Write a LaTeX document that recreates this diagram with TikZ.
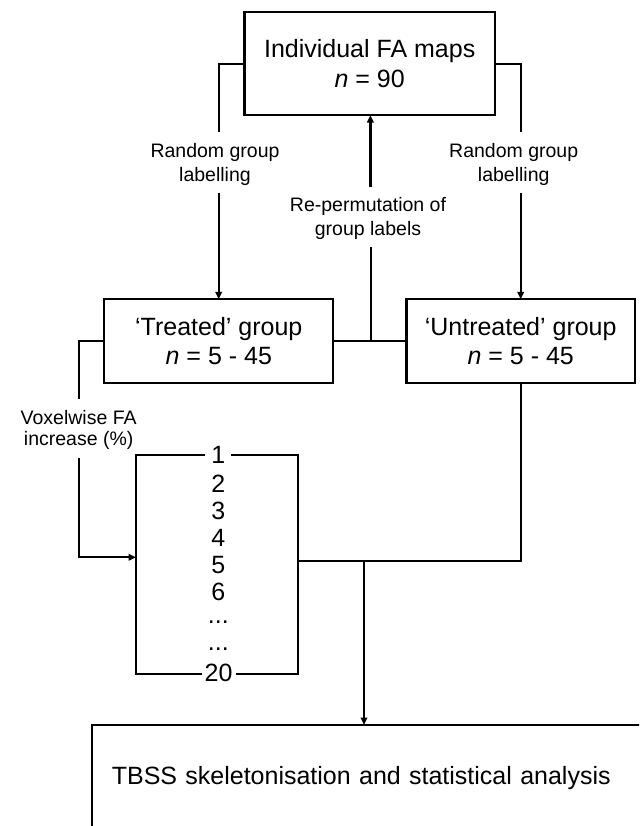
\documentclass[tikz,border=0pt]{standalone}
\usepackage{fontspec}
\setmainfont{Liberation Sans}
\usetikzlibrary{arrows.meta}
\newcommand\bigfnt{\fontsize{25}{29.5}\selectfont}
\newcommand\smlfnt{\fontsize{19.5}{24.4}\selectfont}
\begin{document}
\begin{tikzpicture}[x=1pt,y=-1pt,
  ln/.style={line width=2.3pt},
  arr/.style={line width=2.3pt,-{Triangle[length=7.5pt,width=6.5pt]}},
  box/.style={draw,line width=2.3pt,inner sep=0pt,outer sep=0pt,font=\bigfnt,align=center},
  lbl/.style={font=\smlfnt,align=center,inner sep=0pt},
  num/.style={font=\bigfnt,inner sep=0pt,anchor=base}]
\useasboundingbox (0,0) rectangle (639,826);
\clip (0,0) rectangle (639,826);
\fill[white] (0,0) rectangle (639,826);

% boxes
\node[box,minimum width=250.7pt,minimum height=102.7pt] (top) at (369.7,63.7) {Individual FA maps\\\textit{n} = 90};
\node[box,minimum width=229pt,minimum height=84pt] (treated) at (218.8,341.3) {‘Treated’ group\\\textit{n} = 5 - 45};
\node[box,minimum width=228.7pt,minimum height=84pt] (untreated) at (520.7,341.3) {‘Untreated’ group\\\textit{n} = 5 - 45};
\node[box,anchor=north west,align=left,inner xsep=20pt,inner ysep=41pt,text width=560pt,text height=18pt,text depth=100pt] (tbss) at (91.8,725) {TBSS skeletonisation and statistical analysis};

% labels
\node[lbl] (lblL) at (215,164.5) {Random group\\labelling};
\node[lbl] (lblR) at (513.7,164.5) {Random group\\labelling};
\node[lbl,font={\fontsize{19.5}{23.3}\selectfont}] (lblM) at (368,218.4) {Re-permutation of\\group labels};
\node[lbl,font={\fontsize{19.5}{21.7}\selectfont}] (lblV) at (78.7,429.9) {Voxelwise FA\\increase (\%)};

% list bracket
\node[draw,line width=2.3pt,inner sep=0pt,outer sep=0pt,minimum width=161.7pt,minimum height=219.3pt] (list) at (216.85,564.65) {};
\node[num,fill=white,inner xsep=6pt] (n1) at (218.3,463.3) {1};
\node[num] (n2) at (218.3,492.3) {2};
\node[num] (n3) at (218.3,519.3) {3};
\node[num] (n4) at (218.3,546.7) {4};
\node[num] (n5) at (218.3,573.3) {5};
\node[num] (n6) at (218.3,600.7) {6};
\node[num] (d1) at (218.3,623.8) {...};
\node[num] (d2) at (218.3,650.3) {...};
\node[num,fill=white,inner xsep=3pt] (n20) at (218.6,681.7) {20};

% connector points
\coordinate (aL1) at (218.7,132.3);
\coordinate (aL2) at (218.7,192.7);
\coordinate (aR1) at (520.7,132.3);
\coordinate (aR2) at (520.7,192.7);
\coordinate (aM1) at (370.4,186.7);
\coordinate (aM2) at (370.8,246.7);
\coordinate (aV1) at (78.7,399.3);
\coordinate (aV2) at (78.7,458.3);
\coordinate (aV3) at (78.7,557.3);
\coordinate (jR) at (520.7,560.7);
\coordinate (jD) at (364,560.7);

% connectors
\draw[ln] (top.west) -| (aL1);
\draw[arr] (aL2) -- (aL2 |- treated.north);
\draw[ln] (top.east) -| (aR1);
\draw[arr] (aR2) -- (aR2 |- untreated.north);
\draw[arr] (aM1) -- (aM1 |- top.south);
\draw[ln] (treated.east) -- (untreated.west);
\draw[ln] (aM2) -- (aM2 |- treated.east);
\draw[ln] (treated.west) -| (aV1);
\draw[arr] (aV2) -- (aV3) -- (aV3 -| list.west);
\draw[ln] (untreated.south) -- (jR) -- (jR -| list.east);
\draw[arr] (jD) -- (jD |- tbss.north);
\end{tikzpicture}
\end{document}
